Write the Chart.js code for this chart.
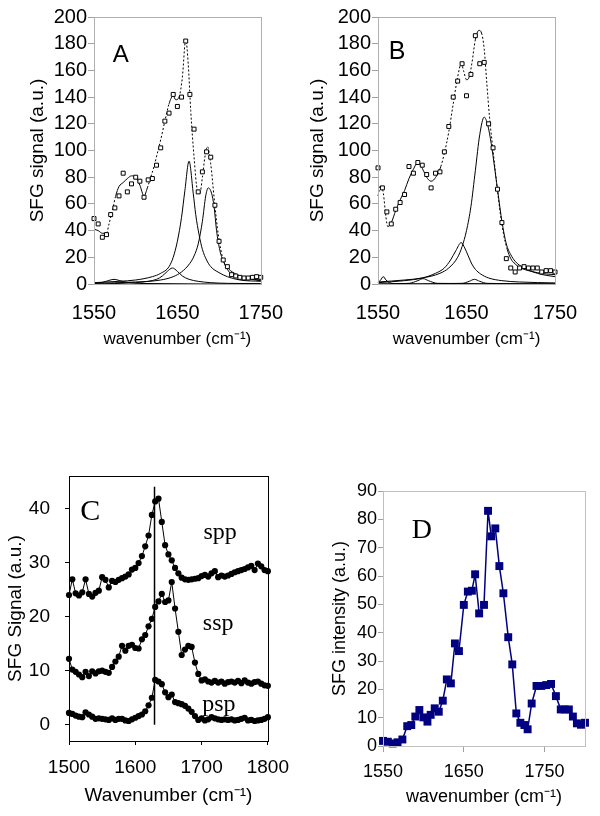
<!DOCTYPE html>
<html>
<head>
<meta charset="utf-8">
<script src="https://cdn.jsdelivr.net/npm/chart.js@4.4.1/dist/chart.umd.min.js"></script>
<style>
  body { margin: 0; background: #fff; }
  canvas { position: absolute; display: block; }
</style>
</head>
<body>
<canvas id="chartA" width="300" height="360" style="left:0;top:0"></canvas>
<canvas id="chartB" width="300" height="360" style="left:300px;top:0"></canvas>
<canvas id="chartC" width="300" height="416" style="left:0;top:400px"></canvas>
<canvas id="chartD" width="300" height="416" style="left:300px;top:400px"></canvas>
<script>
// ---- panel A ----
const aWavenumber = [1550,1555,1560,1565,1570,1575,1580,1585,1590,1595,1600,1605,1610,1615,1620,1625,1630,1635,1640,1645,1650,1655,1660,1665,1670,1675,1680,1685,1690,1695,1700,1705,1710,1715,1720,1725,1730,1735,1740,1745,1750];
const aSignal = [49,45,35,37,52,57,66,83,69,75,80,77,65,78,79,89,102,122,128,142,133,140,182,142,116,69,84,99,95,59,32,18,13,7,6,5,4.5,4.5,5,5.5,5];
const aFitX = [1550,1555,1560,1565,1568,1572,1576,1580,1585,1590,1595,1600,1605,1610,1614,1618,1622,1626,1630,1635,1640,1645,1648,1652,1656,1660,1663,1666,1670,1674,1677,1680,1683,1686,1690,1694,1698,1702,1706,1710,1715,1720,1730,1740,1750];
const aFitY = [41,40,38,38,45,55,66,73,76,79,81,80,74,66,72,80,88,98,108,122,135,141,138,140,155,183,165,130,95,70,68,80,95,103,90,65,42,26,16,11,7,5.5,4,3.5,3];
const aPeak1X = [1550,1580,1600,1620,1630,1640,1645,1650,1655,1659,1664,1669,1672,1676,1680,1685,1690,1700,1710,1725,1750];
const aPeak1Y = [1,2,3,5.5,8,13,20,32,50,70,92,68,52,37,26,18,13,8.5,5.5,3,2];
const aPeak2X = [1550,1600,1630,1645,1655,1665,1670,1675,1680,1684,1687,1691,1694,1697,1701,1706,1712,1720,1735,1750];
const aPeak2Y = [0.5,1.5,3,5.5,9,15.5,21,30,47,66,72,68,58,40,25,16,11,7.5,4,2.5];
const aPeak3X = [1550,1600,1615,1625,1632,1638,1644,1650,1656,1664,1675,1690,1710,1750];
const aPeak3Y = [0,1,2,3.5,6,9.5,12,9.5,6,3.5,2,1,0.5,0.3];
const aPeak4X = [1550,1560,1567,1574,1581,1590,1605,1750];
const aPeak4Y = [0.5,1.2,2.5,3.5,2.5,1.2,0.4,0];

// ---- panel B ----
const bWavenumber = [1550,1555,1560,1565,1570,1575,1580,1585,1590,1595,1600,1605,1610,1615,1620,1625,1630,1635,1640,1645,1650,1655,1660,1665,1670,1675,1680,1685,1690,1695,1700,1705,1710,1715,1720,1725,1730,1735,1740,1745,1750];
const bSignal = [87,72,54,45,56,61,67,88,83,91,89,82,72,83,84,99,118,140,152,165,141,157,186,165,166,120,102,71,46,19,12,9,12,13,12,12,12,9,10,10,9];
const bFitX = [1550,1553,1556,1559,1561,1565,1570,1575,1580,1585,1590,1595,1598,1602,1606,1610,1613,1617,1621,1625,1630,1635,1640,1644,1647,1650,1653,1656,1660,1664,1667,1670,1673,1676,1680,1684,1688,1692,1696,1700,1705,1710,1720,1730,1740,1750];
const bFitY = [66,74,68,50,43,46,55,63,70,79,86,91,89,84,79,77,78,82,88,98,114,135,155,165,159,153,155,165,183,190,188,176,150,125,100,76,54,37,26,19,15,12.5,10,8.5,7.5,7];
const bPeak1X = [1550,1580,1600,1620,1630,1640,1645,1650,1655,1660,1665,1670,1674,1678,1682,1686,1690,1695,1700,1705,1710,1720,1730,1740,1750];
const bPeak1Y = [1.5,3,4.5,8,12,20,28,40,58,85,112,125,119,105,86,66,47,30,22,17,14,10.5,8,6.5,5.5];
const bPeak2X = [1550,1580,1600,1615,1625,1632,1638,1644,1648,1652,1656,1660,1666,1675,1690,1710,1750];
const bPeak2Y = [1,2.5,4.5,8,12,18,25,31,27,21,15,11,7.5,4.5,2.5,1.5,0.8];
const bPeak3X = [1550,1553,1556,1559,1563,1570,1600,1750];
const bPeak3Y = [1,3,5.5,3,1,0.3,0,0];
const bPeak4X = [1550,1585,1595,1601,1607,1617,1750];
const bPeak4Y = [0,0.5,2.5,4,2.5,0.5,0];
const bPeak5X = [1550,1645,1653,1659,1665,1673,1750];
const bPeak5Y = [0,0.5,2,3.5,2,0.5,0];

const abXTicks = [1550, 1650, 1750];
const abYTicks = [0, 20, 40, 60, 80, 100, 120, 140, 160, 180, 200];

// ---- panel C ----
const cWavenumber = [1500,1505,1510,1515,1520,1525,1530,1535,1540,1545,1550,1555,1560,1565,1570,1575,1580,1585,1590,1595,1600,1605,1610,1615,1620,1625,1630,1635,1640,1645,1650,1655,1660,1665,1670,1675,1680,1685,1690,1695,1700,1705,1710,1715,1720,1725,1730,1735,1740,1745,1750,1755,1760,1765,1770,1775,1780,1785,1790,1795,1800];
const cSpp = [24.0,26.9,24.3,23.9,24.5,26.9,24.2,23.7,24.4,24.8,27.3,26.8,25.4,26.6,26.4,26.8,27.1,27.4,27.8,28.7,29.0,29.9,31.2,33.0,35.0,38.8,41.3,41.8,37.5,33.2,31.5,30.4,29.0,28.0,27.2,26.9,26.8,26.9,27.0,27.1,27.5,27.7,27.4,28.0,28.4,27.3,27.6,27.4,27.6,27.9,28.2,28.4,28.6,28.8,29.1,29.4,28.6,29.8,29.3,28.6,28.4];
const cSsp = [12.2,10.2,9.8,9.3,8.8,9.8,9.0,9.9,9.5,9.9,10.0,9.8,9.6,10.7,11.7,12.6,14.6,13.7,14.6,14.8,14.2,14.1,15.8,16.6,18.2,19.6,21.8,22.8,24.2,22.7,23.0,26.4,21.5,17.2,12.9,13.9,14.6,14.4,11.5,9.4,8.2,8.4,8.0,7.8,8.1,7.8,8.0,7.6,7.9,8.0,7.8,8.1,7.7,8.2,7.8,7.6,7.9,8.0,7.6,7.3,7.2];
const cPsp = [2.2,2.0,1.7,1.5,1.4,2.3,1.9,1.5,1.1,1.2,1.1,1.0,0.9,1.2,0.9,1.1,1.1,0.8,0.7,1.0,1.3,1.6,1.9,2.5,3.6,5.0,8.3,8.0,7.5,6.0,5.1,5.6,4.2,4.0,3.8,3.5,3.0,2.4,1.6,0.9,1.2,0.8,1.0,1.4,1.2,1.0,0.9,1.0,0.9,1.0,0.8,0.9,1.1,1.3,0.8,0.9,0.7,0.8,0.9,1.1,1.4];
const cMarkerX = [1629, 1629];
const cMarkerY = [0, 44];
const cXTicks = [1500, 1600, 1700, 1800];
const cYTicks = [0, 10, 20, 30, 40];

// ---- panel D ----
const dWavenumber = [1550,1556,1562,1568,1574,1580,1585,1590,1595,1600,1605,1609,1614,1619,1624,1629,1634,1639,1644,1650,1655,1660,1664,1669,1675,1680,1684,1689,1694,1699,1705,1710,1715,1720,1725,1729,1734,1740,1746,1752,1758,1764,1770,1775,1780,1785,1790,1795,1800];
const dIntensity = [1.8,1.5,0.9,1.3,2.3,7.0,7.4,10.4,12.7,10.1,8.6,11.0,13.3,12.1,16.0,23.5,22.1,36.2,33.5,49.8,54.5,54.8,60.6,46.8,49.8,83.0,74.0,76.8,63.5,53.9,38.4,28.8,11.5,8.2,7.4,5.9,15.0,21.2,21.2,21.5,21.9,17.6,12.9,12.9,12.9,10.4,8.0,7.5,8.2];
const dXTicks = [1550, 1650, 1750];
const dYTicks = [0, 10, 20, 30, 40, 50, 60, 70, 80, 90];

const SANS = '"Liberation Sans", Arial, sans-serif';
const SERIF = '"Liberation Serif", "Times New Roman", serif';

function pts(xs, ys) {
  return xs.map((x, i) => ({ x: x, y: ys[i] }));
}

function fixedTicks(values) {
  return function (axis) {
    axis.ticks = values.map(v => ({ value: v }));
  };
}

// Excel draws its dotted fit as solid where the curve is flat
function steepDash(ctx) {
  const dx = Math.abs(ctx.p1.x - ctx.p0.x);
  const dy = Math.abs(ctx.p1.y - ctx.p0.y);
  return dy > 3 * dx ? [2, 2] : undefined;
}

// plot-area frame and panel text
const panelDecor = {
  id: "panelDecor",
  afterDraw(chart, args, opts) {
    const { ctx, chartArea: a, scales } = chart;
    ctx.save();
    if (opts.frame) {
      ctx.strokeStyle = opts.frame;
      ctx.lineWidth = 1;
      ctx.strokeRect(Math.round(a.left) + 0.5, Math.round(a.top) + 0.5,
        Math.round(a.right - a.left), Math.round(a.bottom - a.top));
    }
    (opts.labels || []).forEach(l => {
      ctx.font = l.font;
      ctx.fillStyle = "#000";
      ctx.textAlign = "center";
      ctx.textBaseline = "middle";
      ctx.fillText(l.text, scales.x.getPixelForValue(l.x), scales.y.getPixelForValue(l.y));
    });
    ctx.restore();
  },
};

function markers(xs, ys) {
  return {
    data: pts(xs, ys),
    showLine: false,
    pointStyle: "rect",
    pointRadius: 2.8,
    pointBorderWidth: 1,
    pointBorderColor: "#000",
    pointBackgroundColor: "#fff",
    clip: false,
  };
}

function curve(xs, ys, dotted) {
  const ds = {
    data: pts(xs, ys),
    showLine: true,
    pointRadius: 0,
    borderColor: "#000",
    borderWidth: 1,
    cubicInterpolationMode: "monotone",
    clip: false,
  };
  if (dotted) ds.segment = { borderDash: steepDash };
  return ds;
}

function abOptions(yAxisWidth, rightPad, yTitlePad, letter) {
  return {
    responsive: false,
    animation: false,
    layout: { padding: { top: 17, right: rightPad, left: 0, bottom: 0 } },
    plugins: {
      legend: { display: false },
      tooltip: { enabled: false },
      panelDecor: { frame: "#b0b0b0", labels: [letter] },
    },
    scales: {
      x: {
        type: "linear",
        min: 1550,
        max: 1750,
        afterBuildTicks: fixedTicks(abXTicks),
        afterFit: s => { s.height = 76; },
        grid: { display: false, drawTicks: false },
        border: { color: "#555" },
        ticks: { padding: 17, autoSkip: false, maxRotation: 0, color: "#000",
          font: { family: SANS, size: 20 }, callback: v => String(v) },
        title: { display: true, text: "wavenumber (cm⁻¹)", color: "#000",
          font: { family: SANS, size: 17 }, padding: { top: 0, bottom: 10 } },
      },
      y: {
        min: 0,
        max: 200,
        afterBuildTicks: fixedTicks(abYTicks),
        afterFit: s => { s.width = yAxisWidth; },
        grid: { drawOnChartArea: false, drawTicks: true, tickLength: 6, color: "#a0a0a0" },
        border: { color: "#a0a0a0" },
        ticks: { padding: 1, autoSkip: false, color: "#000",
          font: { family: SANS, size: 20 }, callback: v => String(v) },
        title: { display: true, text: "SFG signal (a.u.)", color: "#000",
          font: { family: SANS, size: 19 }, padding: { top: yTitlePad, bottom: 0 } },
      },
    },
  };
}

new Chart(document.getElementById("chartA"), {
  type: "scatter",
  data: {
    datasets: [
      markers(aWavenumber, aSignal),
      curve(aFitX, aFitY, true),
      curve(aPeak1X, aPeak1Y),
      curve(aPeak2X, aPeak2Y),
      curve(aPeak3X, aPeak3Y),
      curve(aPeak4X, aPeak4Y),
    ],
  },
  options: abOptions(94, 30, 26, { text: "A", x: 1582, y: 171.5, font: "24px " + SANS }),
  plugins: [panelDecor],
});

new Chart(document.getElementById("chartB"), {
  type: "scatter",
  data: {
    datasets: [
      markers(bWavenumber, bSignal),
      curve(bFitX, bFitY, true),
      curve(bPeak1X, bPeak1Y),
      curve(bPeak2X, bPeak2Y),
      curve(bPeak3X, bPeak3Y),
      curve(bPeak4X, bPeak4Y),
      curve(bPeak5X, bPeak5Y),
    ],
  },
  options: abOptions(78, 45, 6, { text: "B", x: 1571.5, y: 173.8, font: "25px " + SANS }),
  plugins: [panelDecor],
});

function dotSeries(ys) {
  return {
    data: pts(cWavenumber, ys),
    showLine: true,
    borderColor: "#000",
    borderWidth: 1,
    pointStyle: "circle",
    pointRadius: 3.1,
    pointBorderWidth: 0,
    pointBackgroundColor: "#000",
    clip: false,
  };
}

new Chart(document.getElementById("chartC"), {
  type: "scatter",
  data: {
    datasets: [
      dotSeries(cSpp),
      dotSeries(cSsp),
      dotSeries(cPsp),
      { data: pts(cMarkerX, cMarkerY), showLine: true, pointRadius: 0,
        borderColor: "#000", borderWidth: 1.5 },
    ],
  },
  options: {
    responsive: false,
    animation: false,
    layout: { padding: { top: 76, right: 23, left: 0, bottom: 0 } },
    plugins: {
      legend: { display: false },
      tooltip: { enabled: false },
      panelDecor: {
        frame: "#000",
        labels: [
          { text: "C", x: 1532, y: 39.3, font: "30px " + SERIF },
          { text: "spp", x: 1728, y: 35.6, font: "24px " + SERIF },
          { text: "ssp", x: 1725, y: 18.6, font: "24px " + SERIF },
          { text: "psp", x: 1726, y: 3.7, font: "24px " + SERIF },
        ],
      },
    },
    scales: {
      x: {
        type: "linear",
        min: 1500,
        max: 1800,
        afterBuildTicks: fixedTicks(cXTicks),
        afterFit: s => { s.height = 75; },
        grid: { drawOnChartArea: false, drawTicks: true, tickLength: 4, color: "#000" },
        border: { color: "#000" },
        ticks: { padding: 11, autoSkip: false, maxRotation: 0, color: "#000",
          font: { family: SANS, size: 19 }, callback: v => String(v) },
        title: { display: true, text: "Wavenumber (cm⁻¹)", color: "#000",
          font: { family: SANS, size: 19 }, padding: { top: 0, bottom: 9 } },
      },
      y: {
        min: -3,
        max: 46,
        afterBuildTicks: fixedTicks(cYTicks),
        afterFit: s => { s.width = 69; },
        grid: { drawOnChartArea: false, drawTicks: true, tickLength: 4, color: "#000" },
        border: { color: "#000" },
        ticks: { padding: 15, autoSkip: false, color: "#000",
          font: { family: SANS, size: 19 }, callback: v => String(v) },
        title: { display: true, text: "SFG Signal (a.u.)", color: "#000",
          font: { family: SANS, size: 19 }, padding: { top: 4, bottom: 0 } },
      },
    },
  },
  plugins: [panelDecor],
});

new Chart(document.getElementById("chartD"), {
  type: "scatter",
  data: {
    datasets: [
      {
        data: pts(dWavenumber, dIntensity),
        showLine: true,
        borderColor: "#000080",
        borderWidth: 1.5,
        pointStyle: "rect",
        pointRadius: 5.6,
        pointBorderWidth: 0,
        pointBackgroundColor: "#000080",
        clip: false,
      },
    ],
  },
  options: {
    responsive: false,
    animation: false,
    layout: { padding: { top: 91, right: 15, left: 0, bottom: 0 } },
    plugins: {
      legend: { display: false },
      tooltip: { enabled: false },
      panelDecor: {
        frame: "#c0c0c0",
        labels: [{ text: "D", x: 1598, y: 75.9, font: "28px " + SERIF }],
      },
    },
    scales: {
      x: {
        type: "linear",
        min: 1550,
        max: 1800,
        afterBuildTicks: fixedTicks(dXTicks),
        afterFit: s => { s.height = 70; },
        grid: { drawOnChartArea: false, drawTicks: true, tickLength: 6, color: "#a0a0a0" },
        border: { color: "#a0a0a0" },
        ticks: { padding: 9, autoSkip: false, maxRotation: 0, color: "#000",
          font: { family: SANS, size: 18 }, callback: v => String(v) },
        title: { display: true, text: "wavenumber (cm⁻¹)", color: "#000",
          font: { family: SANS, size: 18 }, padding: { top: 0, bottom: 8 } },
      },
      y: {
        min: 0,
        max: 90,
        afterBuildTicks: fixedTicks(dYTicks),
        afterFit: s => { s.width = 83; },
        grid: { drawOnChartArea: false, drawTicks: true, tickLength: 5, color: "#a0a0a0" },
        border: { color: "#a0a0a0" },
        ticks: { padding: 1, autoSkip: false, color: "#000",
          font: { family: SANS, size: 18 }, callback: v => String(v) },
        title: { display: true, text: "SFG intensity (a.u.)", color: "#000",
          font: { family: SANS, size: 18 }, padding: { top: 29, bottom: 0 } },
      },
    },
  },
  plugins: [panelDecor],
});
</script>
</body>
</html>
